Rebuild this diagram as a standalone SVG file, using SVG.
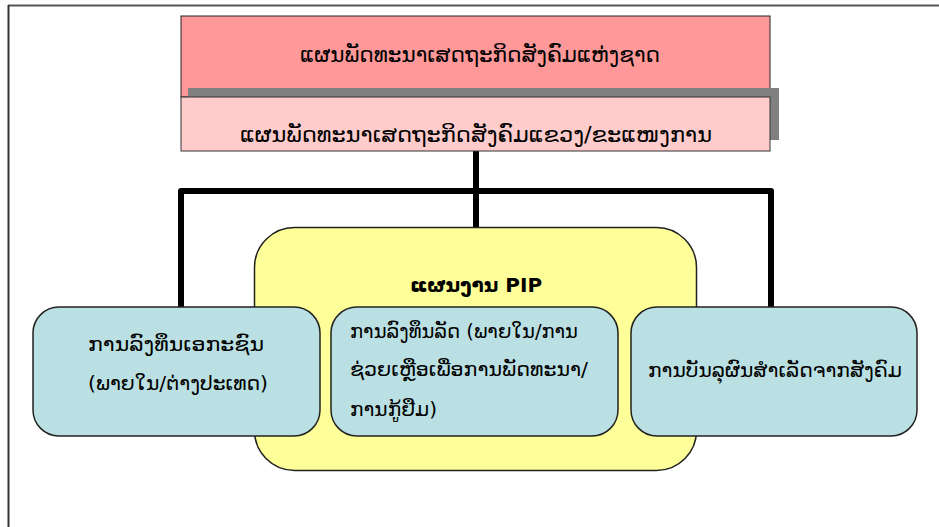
<svg xmlns="http://www.w3.org/2000/svg" width="939" height="527" viewBox="0 0 939 527">
<style>
text{font-family:"DejaVu Sans","Noto Sans","Liberation Sans",sans-serif;fill:#000}
.lbl{font-size:19px}
.hd{font-size:21px}
.blue{fill:#BBE0E3;stroke:#222;stroke-width:1.5}
.con{fill:none;stroke:#000;stroke-width:6;stroke-linejoin:round}
</style>
<rect width="939" height="527" fill="#fff"/>
<g id="frame">
<line x1="8" y1="5.5" x2="939" y2="5.5" stroke="#555" stroke-width="2"/>
<line x1="8.5" y1="5" x2="8.5" y2="527" stroke="#333" stroke-width="2"/>
</g>
<g id="connectors">
<path class="con" d="M181 307 V191 H771 V307"/>
<path class="con" d="M476 151 V228"/>
</g>
<g id="national">
<rect x="181" y="16" width="589" height="81" fill="#FF9999" stroke="#222" stroke-width="1"/>
<text class="hd" x="300" y="62" textLength="360" lengthAdjust="spacingAndGlyphs">ແຜນພັດທະນາເສດຖະກິດສັງຄົມແຫ່ງຊາດ</text>
</g>
<g id="provincial">
<rect x="188" y="88" width="591" height="52" fill="#808080"/>
<rect x="181" y="97" width="589" height="54" fill="#FFCCCC" stroke="#333" stroke-width="1"/>
<text class="hd" x="240" y="142" textLength="472" lengthAdjust="spacingAndGlyphs">ແຜນພັດທະນາເສດຖະກິດສັງຄົມແຂວງ/ຂະແໜງການ</text>
</g>
<g id="pip">
<rect x="254.5" y="227.5" width="442" height="243" rx="40" ry="40" fill="#FFFF99" stroke="#222" stroke-width="1.5"/>
<text x="476" y="292" text-anchor="middle" font-size="20" font-weight="bold">ແຜນງານ PIP</text>
</g>
<g id="private">
<rect class="blue" x="33" y="307" width="287" height="129" rx="26" ry="26"/>
<text class="lbl" x="88" y="351" textLength="176" lengthAdjust="spacingAndGlyphs">ການລົງທຶນເອກະຊົນ</text>
<text class="lbl" x="88" y="390" textLength="180" lengthAdjust="spacingAndGlyphs">(ພາຍໃນ/ຕ່າງປະເທດ)</text>
</g>
<g id="public">
<rect class="blue" x="331" y="307" width="287" height="129" rx="26" ry="26"/>
<text class="lbl" x="350" y="338" textLength="228" lengthAdjust="spacingAndGlyphs">ການລົງທຶນລັດ (ພາຍໃນ/ການ</text>
<text class="lbl" x="350" y="376" textLength="238" lengthAdjust="spacingAndGlyphs">ຊ່ວຍເຫຼືອເພື່ອການພັດທະນາ/</text>
<text class="lbl" x="350" y="416" textLength="87" lengthAdjust="spacingAndGlyphs">ການກູ້ຢືມ)</text>
</g>
<g id="social">
<rect class="blue" x="631" y="307" width="286" height="129" rx="26" ry="26"/>
<text class="lbl" x="648" y="377" textLength="254" lengthAdjust="spacingAndGlyphs">ການບັນລຸຜົນສຳເລັດຈາກສັງຄົມ</text>
</g>
</svg>
